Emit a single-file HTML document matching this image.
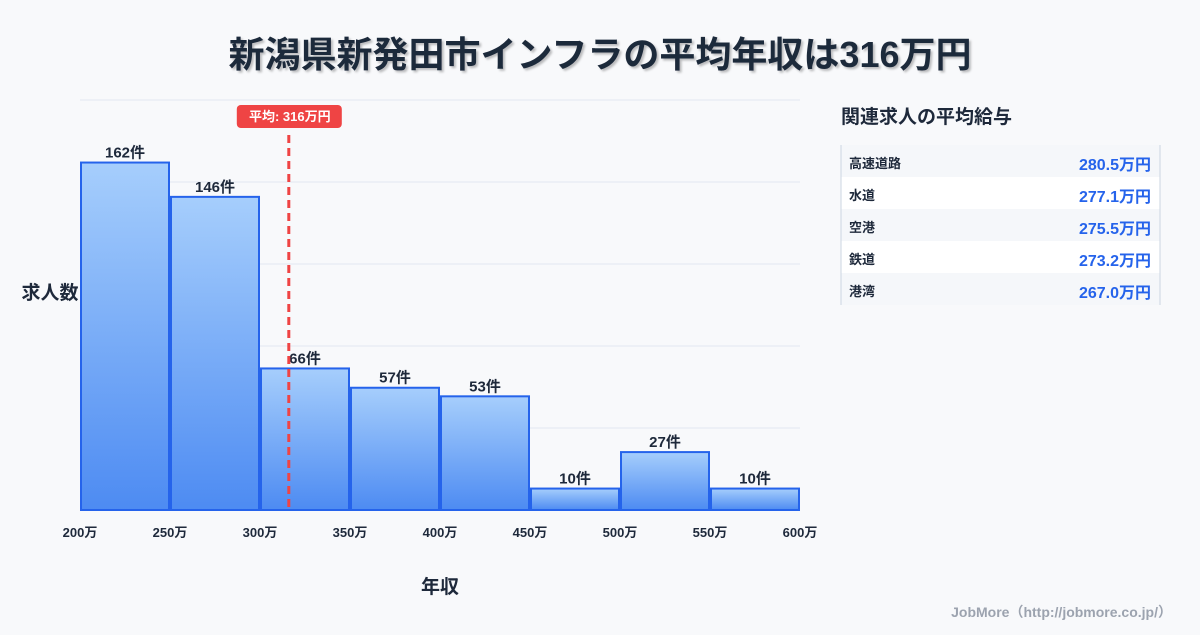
<!DOCTYPE html>
<html><head><meta charset="utf-8"><style>
body{margin:0;background:#f8f9fb;font-family:"Liberation Sans","Noto Sans CJK JP",sans-serif;}
svg text{font-family:"Liberation Sans","Noto Sans CJK JP",sans-serif;}
</style></head><body>
<svg id="c" width="1200" height="630" viewBox="0 0 1200 630" xmlns="http://www.w3.org/2000/svg">
<defs>
<linearGradient id="g" x1="0" y1="0" x2="0" y2="1"><stop offset="0" stop-color="#a6cefc"/><stop offset="1" stop-color="#4d8bf2"/></linearGradient>
<filter id="sh"><feDropShadow dx="2" dy="2" stdDeviation="1" flood-color="#000" flood-opacity="0.25"/></filter>
</defs>
<rect width="1200" height="630" fill="#f8f9fb"/>
<text x="600" y="67" text-anchor="middle" font-size="36" font-weight="bold" fill="#1e293b" filter="url(#sh)">新潟県新発田市インフラの平均年収は316万円</text>
<g id="grid"></g>
<g id="bars"></g>
<g id="xt"></g>
<text x="50" y="299" text-anchor="middle" font-size="19" font-weight="bold" fill="#1e293b">求人数</text>
<text x="440" y="593" text-anchor="middle" font-size="19" font-weight="bold" fill="#1e293b">年収</text>
<g id="mean"></g>
<text x="841" y="123" font-size="19" font-weight="bold" fill="#1e293b">関連求人の平均給与</text>
<g id="side"></g>
<text x="1172" y="617" text-anchor="end" font-size="14" font-weight="bold" fill="#9ca3af">JobMore（http://jobmore.co.jp/）</text>
</svg>
<script>
const binStarts=[200,250,300,350,400,450,500,550];
const counts=[162,146,66,57,53,10,27,10];
const xTicks=[200,250,300,350,400,450,500,550,600];
const meanValue=316;
const sideNames=["高速道路","水道","空港","鉄道","港湾"];
const sideValues=["280.5万円","277.1万円","275.5万円","273.2万円","267.0万円"];
const NS="http://www.w3.org/2000/svg";
function mk(t,a,p){const e=document.createElementNS(NS,t);for(const k in a)e.setAttribute(k,a[k]);p.appendChild(e);return e;}
const x0=80,x1=800,yb=510,yt=100;
const yMax=Math.max(...counts)*1.18;
const xs=v=>x0+(v-200)/(600-200)*(x1-x0);
const ys=v=>yb-v/yMax*(yb-yt);
const grid=document.getElementById('grid');
for(let i=0;i<=5;i++){const y=yt+i*(yb-yt)/5;const l=mk('line',{x1:x0,x2:x1,y1:y,y2:y,stroke:'#e2e8f0','stroke-width':1},grid);

}
const bars=document.getElementById('bars');
binStarts.forEach((b,i)=>{const xa=xs(b)+1,xb=xs(b+50)-1,y=ys(counts[i]);
const r=mk('rect',{x:xa,y:y,width:xb-xa,height:yb-y,fill:'url(#g)',stroke:'#2563eb','stroke-width':2},bars);


const t=mk('text',{x:(xa+xb)/2,y:y-5,'text-anchor':'middle','font-size':15,'font-weight':'bold',fill:'#1e293b'},bars);t.textContent=counts[i]+'件';

});
const xt=document.getElementById('xt');
xTicks.forEach(v=>{const t=mk('text',{x:xs(v),y:537,'text-anchor':'middle','font-size':13,'font-weight':'bold',fill:'#1e293b'},xt);t.textContent=v+'万';

});
const mg=document.getElementById('mean');const mx=xs(meanValue);
const ml=mk('line',{x1:mx,x2:mx,y1:135,y2:yb,stroke:'#ef4444','stroke-width':3,'stroke-dasharray':'8,5'},mg);


const mb=mk('rect',{x:mx-52,y:105,width:105,height:23,rx:4,fill:'#ef4444'},mg);


const mt=mk('text',{x:mx+1,y:121,'text-anchor':'middle','font-size':13,'font-weight':'bold',fill:'#fff'},mg);mt.textContent='平均: '+meanValue+'万円';


const sd=document.getElementById('side');
sideNames.forEach((n,i)=>{const y=145+i*32;
const r=mk('rect',{x:841,y:y,width:319,height:32,fill:i%2?'#ffffff':'#f5f7fa'},sd);


const a=mk('text',{x:849,y:y+23,'font-size':13,'font-weight':'bold',fill:'#1e293b'},sd);a.textContent=n;


const b=mk('text',{x:1151,y:y+25,'text-anchor':'end','font-size':16,'font-weight':'bold',fill:'#2563eb'},sd);b.textContent=sideValues[i];

});
const bl=mk('line',{x1:841,x2:841,y1:145,y2:305,stroke:'#cbd5e1','stroke-width':1},sd);


const br=mk('line',{x1:1160,x2:1160,y1:145,y2:305,stroke:'#cbd5e1','stroke-width':1},sd);


</script>
</body></html>
